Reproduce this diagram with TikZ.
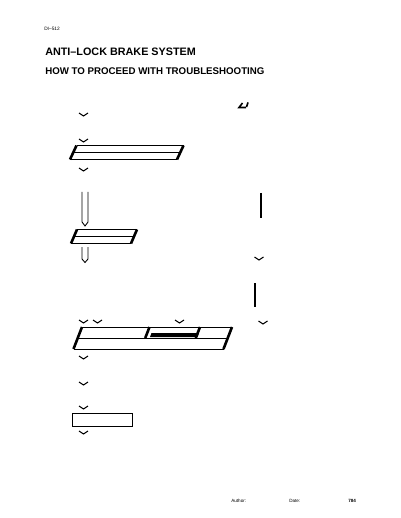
\documentclass[tikz,border=0pt]{standalone}
\usepackage{fontspec}
\setmainfont{Liberation Sans}

\tikzset{
  flowhead/.style={line width=1pt},
  boxedge/.style={line width=1pt},
  boxside/.style={line width=2.6pt},
  hollowarrow/.style={line width=0.9pt},
}

\begin{document}
\begin{tikzpicture}[x=1pt, y=-1pt, line width=0.9pt]
	\useasboundingbox (0, 0) rectangle (400, 518);

	% Заголовки страницы
	\node[anchor=west, font=\fontsize{4.8}{5}\selectfont] (pagecode) at (40.5, 29) {DI–512};
	\node[anchor=west, font=\fontsize{10.8}{12}\selectfont\bfseries] (title) at (41.5, 51.3) {ANTI–LOCK BRAKE SYSTEM};
	\node[anchor=west, font=\fontsize{9.7}{11}\selectfont\bfseries] (subtitle) at (41.5, 70.8) {HOW TO PROCEED WITH TROUBLESHOOTING};

	% Левая колонка: стрелки
	\draw[flowhead] (79, 113) -- (83.5, 116) -- (88, 113);
	\draw[flowhead] (79, 139) -- (83.5, 142) -- (88, 139);

	% Первый блок (параллелограмм)
	\draw[boxedge] (76.5, 145.5) -- (183.5, 145.5);
	\draw[boxedge] (70, 159.5) -- (177, 159.5);
	\draw[boxedge] (73.25, 152.5) -- (180.25, 152.5);
	\draw[boxside] (76.5, 145.5) -- (70, 159.5);
	\draw[boxside] (183.5, 145.5) -- (177, 159.5);

	\draw[flowhead] (79, 168) -- (83.5, 171) -- (88, 168);

	% Полая стрелка вниз
	\draw[hollowarrow] (82, 192) -- (82, 222) -- (85, 226) -- (88, 222) -- (88, 192);

	% Второй блок (параллелограмм)
	\draw[boxedge] (77, 229.5) -- (137, 229.5);
	\draw[boxedge] (71, 243.5) -- (131, 243.5);
	\draw[boxedge] (74, 236.5) -- (134, 236.5);
	\draw[boxside] (77, 229.5) -- (71, 243.5);
	\draw[boxside] (137, 229.5) -- (131, 243.5);

	% Вторая полая стрелка
	\draw[hollowarrow] (82, 247) -- (82, 259) -- (85, 262.5) -- (88, 259) -- (88, 247);

	\draw[flowhead] (79, 320) -- (83.5, 323) -- (88, 320);
	\draw[flowhead] (93, 320) -- (97.5, 323) -- (102, 320);
	\draw[flowhead] (175, 320) -- (179.5, 323) -- (184, 320);

	% Большой блок
	\draw[boxedge] (82, 327) -- (232, 327);
	\draw[boxedge] (77.75, 338) -- (227.75, 338);
	\draw[boxedge] (73.5, 349) -- (223.5, 349);
	\draw[boxside] (82, 327) -- (73.5, 349);
	\draw[boxside] (232, 327) -- (223.5, 349);
	\draw[boxside] (149.5, 327) -- (145.25, 338);
	\draw[boxside] (200, 327) -- (195.75, 338);
	\fill (151.5, 333) -- (199, 333) -- (197.5, 337) -- (150, 337) -- cycle;

	\draw[flowhead] (79, 356) -- (83.5, 359) -- (88, 356);
	\draw[flowhead] (79, 382) -- (83.5, 385) -- (88, 382);
	\draw[flowhead] (79, 406) -- (83.5, 409) -- (88, 406);

	% Прямоугольник
	\draw[line width=1.2pt] (72.5, 413.5) rectangle (132.5, 426.5);

	\draw[flowhead] (79, 431) -- (83.5, 434) -- (88, 431);

	% Правая колонка
	\draw[line width=1.2pt] (261, 193) -- (261, 218);
	\draw[flowhead] (254.5, 257) -- (259, 260) -- (263.5, 257);
	\draw[line width=1.2pt] (255, 283) -- (255, 307);
	\draw[flowhead] (258.5, 321) -- (263, 324) -- (267.5, 321);

	% Значок справа вверху
	\draw[line width=1.6pt] (242.5, 103) -- (239, 107.5) -- (246, 107.5);
	\draw[line width=1.6pt] (248, 102.5) -- (246.5, 107);

	% Подвал страницы
	\begin{scriptsize}
		\node[anchor=west, font=\fontsize{4.6}{5}\selectfont] (author) at (228.5, 501) {Author:};
		\node[anchor=west, font=\fontsize{4.6}{5}\selectfont] (date) at (286.5, 501) {Date:};
		\node[anchor=west, font=\fontsize{4.6}{5}\selectfont\bfseries] (pagenum) at (345.5, 501) {784};
	\end{scriptsize}
\end{tikzpicture}
\end{document}
